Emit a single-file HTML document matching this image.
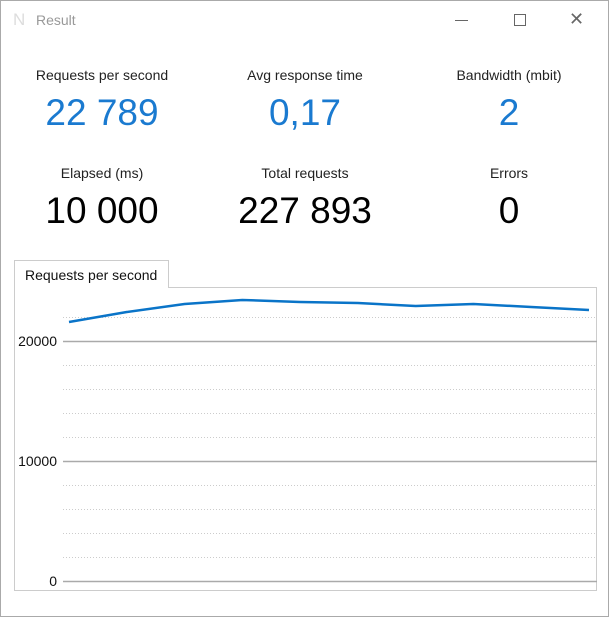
<!DOCTYPE html>
<html><head><meta charset="utf-8"><style>
body{margin:0;width:609px;height:617px;overflow:hidden;background:#fff;font-family:"Liberation Sans",sans-serif;}
#win{position:absolute;left:0;top:0;width:607px;height:615px;border:1px solid #aaa;background:#fff;}
.t{position:absolute;font-size:14px;color:#222;text-align:center;width:200px;}
.v{position:absolute;font-size:37px;text-align:center;width:200px;}
.b{color:#1a7ad0}
</style></head><body>
<div id="win">
<div style="position:absolute;left:12px;top:9px;color:#ddd;font-size:17px">N</div>
<div style="position:absolute;left:35px;top:11px;color:#999;font-size:14px">Result</div>
<div style="position:absolute;left:454px;top:19px;width:13px;height:1px;background:#666"></div>
<div style="position:absolute;left:513px;top:13px;width:10px;height:10px;border:1px solid #666"></div>
<div style="position:absolute;left:568px;top:8px;color:#666;font-size:18px">✕</div>

<div class="t" style="left:1px;top:66px">Requests per second</div>
<div class="v b" style="left:1px;top:91px">22 789</div>
<div class="t" style="left:204px;top:66px">Avg response time</div>
<div class="v b" style="left:204px;top:91px">0,17</div>
<div class="t" style="left:408px;top:66px">Bandwidth (mbit)</div>
<div class="v b" style="left:408px;top:91px">2</div>
<div class="t" style="left:1px;top:164px">Elapsed (ms)</div>
<div class="v" style="left:1px;top:189px">10 000</div>
<div class="t" style="left:204px;top:164px">Total requests</div>
<div class="v" style="left:204px;top:189px">227 893</div>
<div class="t" style="left:408px;top:164px">Errors</div>
<div class="v" style="left:408px;top:189px">0</div>

<div style="position:absolute;left:13px;top:286px;width:581px;height:302px;border:1px solid #ccc"></div>
<div style="position:absolute;left:13px;top:259px;width:155px;height:28px;border:1px solid #ccc;border-bottom:none;background:#fff;font-size:14px;color:#111;line-height:28px;padding-left:10px;box-sizing:border-box">Requests per second</div>
<svg id="chart" width="609" height="617" style="position:absolute;left:-1px;top:-1px"></svg>
</div>
<script>
const values=[21583,22417,23083,23417,23250,23167,22917,23083,22833,22583];
const majorTicks=[0,10000,20000];
const tickLabels=["0","10000","20000"];
const minorStep=2000, yMax=22000;
const ns="http://www.w3.org/2000/svg";
const svg=document.getElementById('chart');
const X0=63,X1=597,Y0=581,PX=0.012;
const y=v=>Y0-v*PX;
const x=i=>69+i*(589-69)/(values.length-1);
function mk(t,a){const e=document.createElementNS(ns,t);for(const k in a)e.setAttribute(k,a[k]);svg.appendChild(e);return e;}
for(let v=0;v<=yMax;v+=minorStep){if(v%10000===0)continue;
const l=mk('line',{x1:X0,x2:X1,y1:y(v)+.5,y2:y(v)+.5,stroke:'#ccc','stroke-dasharray':'1,2'});

}
majorTicks.forEach((v,i)=>{
const l=mk('line',{x1:X0,x2:X1,y1:y(v)+.5,y2:y(v)+.5,stroke:'#aaa','stroke-width':1.5});


const t=mk('text',{x:57,y:y(v)+5,'text-anchor':'end','font-size':14,fill:'#111','font-family':'Liberation Sans, sans-serif'});
t.textContent=tickLabels[i];

});
const p=mk('polyline',{points:values.map((v,i)=>x(i)+','+y(v)).join(' '),fill:'none',stroke:'#0a74c8','stroke-width':2.5});


</script>
</body></html>
